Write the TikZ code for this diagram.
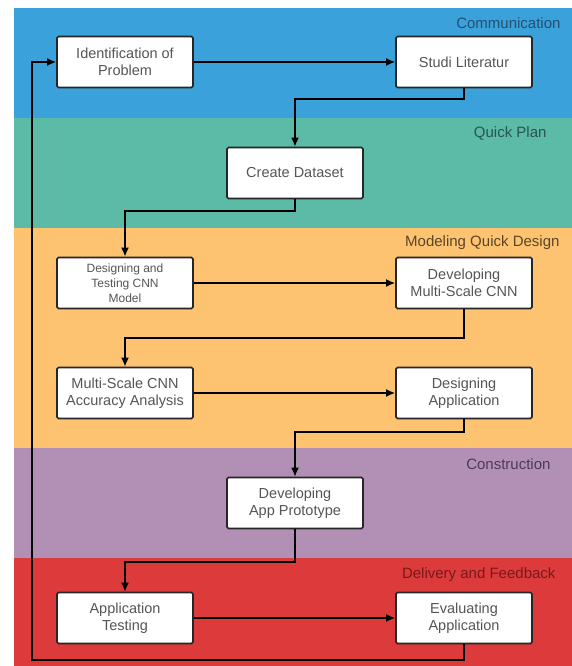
\documentclass[tikz,border=0pt]{standalone}
\usepackage{fontspec}
\setmainfont{Liberation Sans}
\usetikzlibrary{arrows.meta}
\definecolor{bblue}{RGB}{58,161,219}
\definecolor{bgreen}{RGB}{92,187,166}
\definecolor{borange}{RGB}{253,195,113}
\definecolor{bpurple}{RGB}{178,143,181}
\definecolor{bred}{RGB}{221,59,59}
\definecolor{txtgray}{RGB}{85,85,85}
\definecolor{lblue}{RGB}{35,80,115}
\definecolor{lgreen}{RGB}{40,85,78}
\definecolor{lorange}{RGB}{90,70,40}
\definecolor{lpurple}{RGB}{75,60,85}
\definecolor{lred}{RGB}{120,25,25}
\tikzset{
  x=1pt, y=-1pt,
  procbox/.style={draw=black!85, line width=1.6pt, fill=white, rounded corners=1.5pt,
    minimum width=136pt, minimum height=51pt, inner sep=2pt, align=center,
    text=txtgray, font=\fontsize{14.5}{17.5}\selectfont},
  smallbox/.style={procbox, font=\fontsize{12}{15}\selectfont},
  phase/.style={anchor=east, font=\fontsize{15}{18}\selectfont},
  conn/.style={line width=1.8pt, black, -{Latex[length=9pt,width=8pt]}},
}
\begin{document}
\begin{tikzpicture}
\useasboundingbox (0,0) rectangle (572,666);
\fill[white] (0,0) rectangle (572,666);
% bands
\fill[bblue] (14,8) rectangle (572,118);
\fill[bgreen] (14,118) rectangle (572,228);
\fill[borange] (14,228) rectangle (572,448);
\fill[bpurple] (14,448) rectangle (572,558);
\fill[bred] (14,558) rectangle (572,666);
% phase labels
\node[phase, text=lblue] (l1) at (564,23) {Communication};
\node[phase, text=lgreen] (l2) at (550,133) {Quick Plan};
\node[phase, text=lorange] (l3) at (563,243) {Modeling Quick Design};
\node[phase, text=lpurple] (l4) at (554,464) {Construction};
\node[phase, text=lred] (l5) at (559,575) {Delivery and Feedback};
% boxes
\node[procbox] (idp) at (125,62) {Identification of\\Problem};
\node[procbox] (stl) at (464,62) {Studi Literatur};
\node[procbox] (cds) at (295,173) {Create Dataset};
\node[smallbox] (dtc) at (125,283) {Designing and\\Testing CNN\\Model};
\node[procbox] (dms) at (464,283) {Developing\\Multi-Scale CNN};
\node[procbox] (mca) at (125,393) {Multi-Scale CNN\\Accuracy Analysis};
\node[procbox] (dap) at (464,393) {Designing\\Application};
\node[procbox] (dpr) at (295,503) {Developing\\App Prototype};
\node[procbox] (apt) at (125,618) {Application\\Testing};
\node[procbox] (eva) at (464,618) {Evaluating\\Application};
% loop corners
\coordinate (lb) at (464,660);
\coordinate (ll) at (32,660);
\coordinate (lt) at (32,62);
% connectors
\draw[conn] (idp) -- (stl);
\draw[conn] (stl.south) -- ++(0,11) -| (cds.north);
\draw[conn] (cds.south) -- ++(0,12) -| (dtc.north);
\draw[conn] (dtc) -- (dms);
\draw[conn] (dms.south) -- ++(0,29) -| (mca.north);
\draw[conn] (mca) -- (dap);
\draw[conn] (dap.south) -- ++(0,13) -| (dpr.north);
\draw[conn] (dpr.south) -- ++(0,33) -| (apt.north);
\draw[conn] (apt) -- (eva);
\draw[conn] (eva.south) -- (lb) -- (ll) -- (lt) -- (idp.west);
\end{tikzpicture}
\end{document}
